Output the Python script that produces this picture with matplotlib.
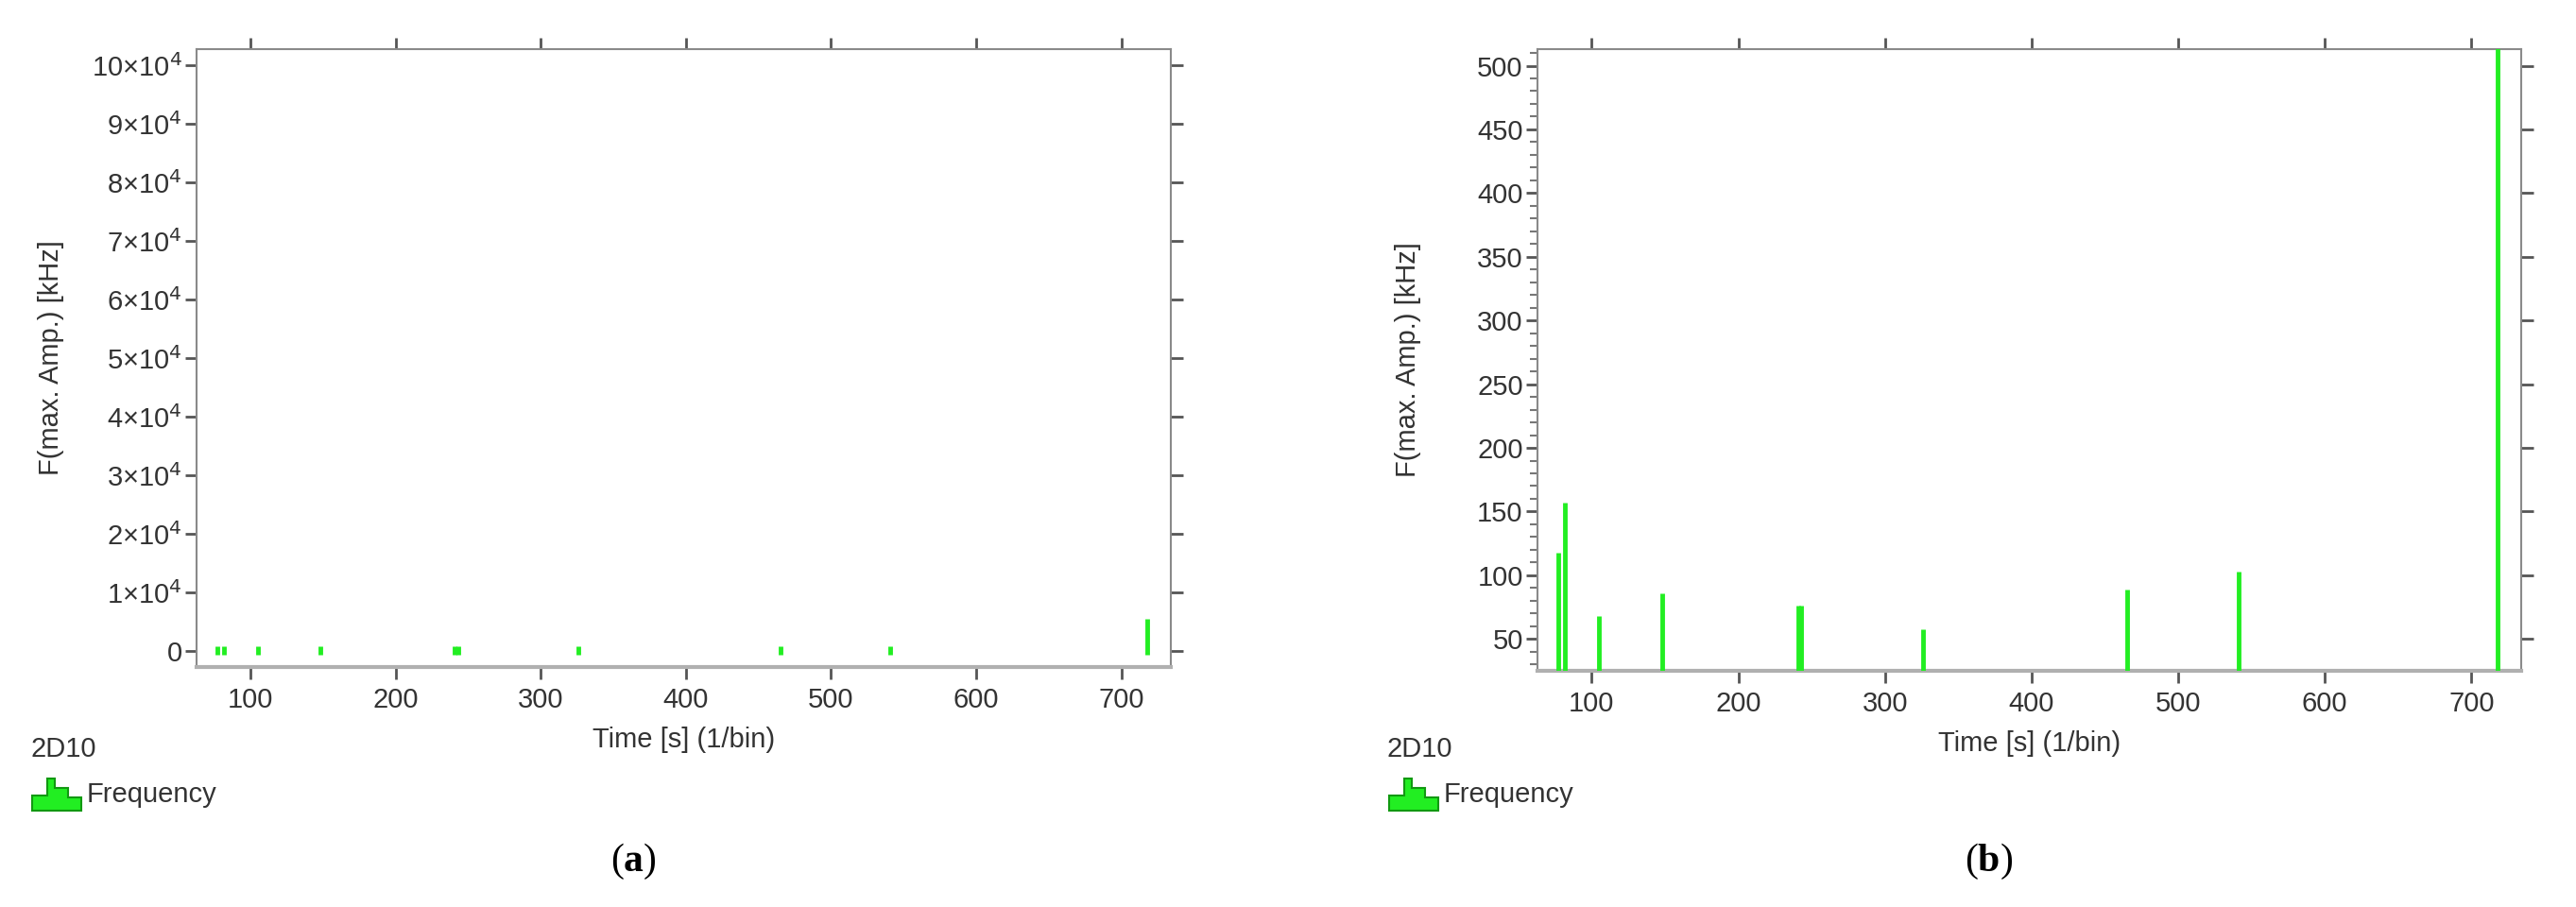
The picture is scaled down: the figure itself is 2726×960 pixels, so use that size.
import numpy as np
import matplotlib.pyplot as plt
from matplotlib.patches import Polygon
from matplotlib.ticker import MultipleLocator

# peak frequency per time bin (2D10)
time_s = [77, 82, 105, 148, 241, 243, 326, 465, 541, 718]
freq_khz = [118, 157, 68, 86, 76, 76, 58, 89, 103, 5500]

x_ticks = [100, 200, 300, 400, 500, 600, 700]
a_ticks = [0, 1e4, 2e4, 3e4, 4e4, 5e4, 6e4, 7e4, 8e4, 9e4, 10e4]
a_labels = ["0"] + [f"{i}×10$^{{4}}$" for i in range(1, 11)]
b_ticks = [50, 100, 150, 200, 250, 300, 350, 400, 450, 500]

W, H = 2726, 960
GREEN = "#22ee22"
GRAY = "#8a8a8a"
TXT = "#333333"
FS = 21
plt.rcParams["font.family"] = ["Liberation Sans", "DejaVu Sans"]

fig = plt.figure(figsize=(W / 100, H / 100), dpi=100)


def make_axes(px, ylim, yticks, ylabels, minor, ylab_x, caption, cap_x, min_h):
    x0, y0, x1, y1 = px
    ax = fig.add_axes([x0 / W, 1 - y1 / H, (x1 - x0) / W, (y1 - y0) / H])
    # tiny peaks still get a visible stroke (as the source software draws them)
    lo = [-min_h] * len(time_s)
    hi = [max(v, min_h) for v in freq_khz]
    ax.vlines(time_s, lo, hi, color=GREEN, lw=3.5, zorder=3)
    ax.set_xlim(63, 734)
    ax.set_ylim(*ylim)
    ax.set_xticks(x_ticks)
    ax.set_yticks(yticks)
    ax.set_yticklabels(ylabels)
    if minor:
        ax.yaxis.set_minor_locator(MultipleLocator(minor))
    ax.tick_params(axis="both", direction="out", length=9, width=2, colors="#555555",
                   labelsize=FS, labelcolor=TXT, pad=2)
    ax.tick_params(which="minor", length=6, width=1.5, colors="#777777")
    ax.tick_params(top=True, right=True, labeltop=False, labelright=False)
    ax.tick_params(axis="x", pad=6)
    for s in ax.spines.values():
        s.set_color(GRAY)
        s.set_linewidth(1.5)
    ax.spines["bottom"].set_linewidth(3)
    ax.spines["bottom"].set_color("#b0b0b0")
    ax.set_xlabel("Time [s] (1/bin)", fontsize=FS, color=TXT, labelpad=10)
    fig.text(ylab_x / W, 1 - (y0 + y1) / 2 / H, "F(max. Amp.) [kHz]", rotation=90,
             ha="left", va="center", fontsize=FS, color=TXT)
    # legend block
    fig.text((ylab_x - 8) / W, 1 - 793 / H, "2D10", fontsize=FS, color=TXT, va="center")
    ix, iy = ylab_x - 6, 858
    pts = [(ix, iy), (ix + 52, iy), (ix + 52, iy - 14), (ix + 38, iy - 14), (ix + 38, iy - 24),
           (ix + 24, iy - 24), (ix + 24, iy - 34), (ix + 16, iy - 34), (ix + 16, iy - 16),
           (ix, iy - 16)]
    fig.patches.append(Polygon([(p / W, 1 - q / H) for p, q in pts], closed=True,
                               transform=fig.transFigure, facecolor=GREEN,
                               edgecolor="#119911", lw=1.5))
    fig.text((ix + 58) / W, 1 - 841 / H, "Frequency", fontsize=FS, color=TXT, va="center")
    fig.text(cap_x / W, 1 - 912 / H, "(" + r"$\mathbf{" + caption + "}$" + ")",
             fontsize=30, family="Liberation Serif", ha="center", va="center")
    return ax


plt.rcParams["mathtext.fontset"] = "custom"
plt.rcParams["mathtext.bf"] = "Liberation Serif:bold"

ax_a = make_axes((208, 52, 1239, 706), (-2800, 102800), a_ticks, a_labels, None, 40,
                 "a", 670, 700)
ax_b = make_axes((1627, 52, 2668, 710), (25, 513), b_ticks, [str(v) for v in b_ticks], 10,
                 1476, "b", 2105, 0)

fig.savefig("out.png", dpi=100)
